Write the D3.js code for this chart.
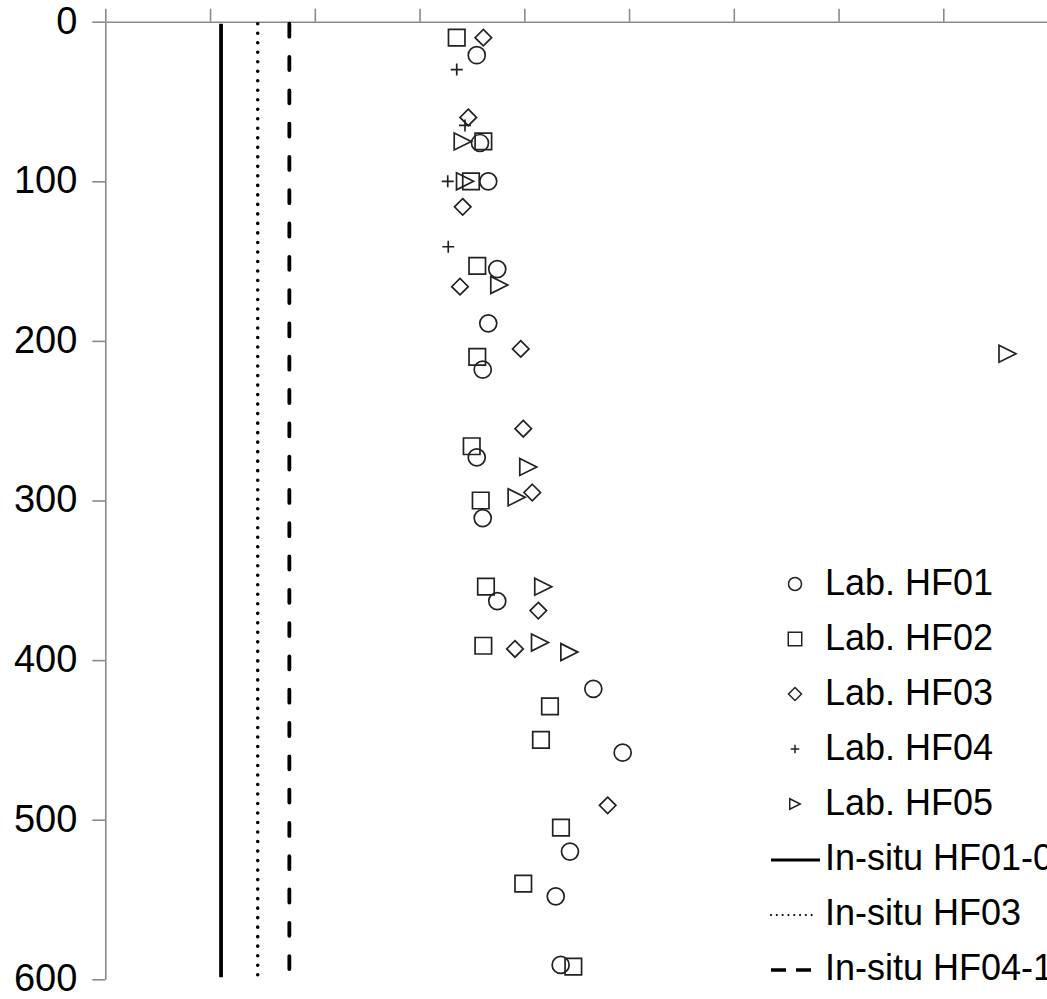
<!DOCTYPE html>
<html>
<head>
<meta charset="utf-8">
<script src="https://cdn.jsdelivr.net/npm/d3@7"></script>
<style>
html,body{margin:0;padding:0;background:#fff;overflow:hidden;}
svg{display:block;font-family:"Liberation Sans",Arial,sans-serif;}
</style>
</head>
<body>
<svg id="chart" width="1047" height="999"></svg>
<script>
// ---- data (depth vs. value, x in axis-tick units) ----
const depthTicks = [0, 100, 200, 300, 400, 500, 600];
const xTicks = [0, 1, 2, 3, 4, 5, 6, 7, 8, 9];

const hf01 = [[3.546,21],[3.577,76],[3.656,100],[3.742,155],[3.656,189],[3.603,218],[3.546,273],[3.603,311],[3.742,363],[4.659,418],[4.939,458],[4.436,520],[4.300,548],[4.347,591]];
const hf02 = [[3.355,10],[3.609,75],[3.491,100],[3.551,153],[3.551,210],[3.498,266],[3.584,300],[3.634,354],[3.609,391],[4.245,429],[4.159,450],[4.350,505],[3.990,540],[4.468,592]];
const hf03 = [[3.609,10],[3.465,60],[3.412,116],[3.386,166],[3.966,205],[3.990,255],[4.076,295],[4.134,369],[3.911,393],[4.796,491]];
const hf04 = [[3.355,30],[3.434,65],[3.269,100],[3.274,141]];
const hf05 = [[3.412,75],[3.434,100],[3.761,165],[8.613,208],[4.038,279],[3.927,298],[4.181,354],[4.150,389],[4.430,395]];

const insituNames = ["In-situ HF01-0", "In-situ HF03", "In-situ HF04-1"];
const insituValues = [1.105, 1.455, 1.757];
const labNames = ["Lab. HF01", "Lab. HF02", "Lab. HF03", "Lab. HF04", "Lab. HF05"];

// ---- setup ----
const svg = d3.select("#chart");
const x = d3.scaleLinear().domain([0, 10]).range([105.3, 105.3 + 1047.5]);
const y = d3.scaleLinear().domain([0, 600]).range([21.7, 979.3]);
const axisColor = "#8a8a8a";
const ink = "#222";

// axes
const gx = svg.append("g").attr("transform", `translate(0,${y(0)})`)
  .call(d3.axisTop(x).tickValues(xTicks).tickSize(13).tickSizeOuter(0).tickFormat(""));
const gy = svg.append("g").attr("transform", `translate(${x(0)},0)`)
  .call(d3.axisLeft(y).tickValues(depthTicks).tickSize(13).tickSizeOuter(0).tickPadding(15));
[gx, gy].forEach(g => {
  g.selectAll("path.domain").attr("stroke", axisColor).attr("stroke-width", 1.6);
  g.selectAll(".tick line").attr("stroke", axisColor).attr("stroke-width", 1.6);
});
gy.selectAll(".tick text")
  .attr("font-size", 38).attr("fill", "#000")
  .attr("font-family", "'Liberation Sans',Arial,sans-serif")
  .attr("dy", "0.3em");

// in-situ lines
const lineStyles = [
  {w: 3.8, dash: null, cap: "butt"},
  {w: 3.6, dash: "0.01,9.5", cap: "round"},
  {w: 3.8, dash: "13,20.3", cap: "round"}
];
svg.append("g").selectAll("line").data(insituValues).join("line")
  .attr("x1", d => x(d)).attr("x2", d => x(d))
  .attr("y1", y(0) + 2).attr("y2", y(600) - 2)
  .attr("stroke", "#000")
  .attr("stroke-width", (d, i) => lineStyles[i].w)
  .attr("stroke-dasharray", (d, i) => lineStyles[i].dash)
  .attr("stroke-linecap", (d, i) => lineStyles[i].cap);

// marker generators (size s = full width)
function markerPath(type, s) {
  const h = s / 2;
  switch (type) {
    case "circle": { const p = d3.path(); p.arc(0, 0, h, 0, 2 * Math.PI); p.closePath(); return p.toString(); }
    case "square": return `M${-h},${-h}H${h}V${h}H${-h}Z`;
    case "diamond": return `M0,${-h}L${h},0L0,${h}L${-h},0Z`;
    case "plus": return `M${-h},0H${h}M0,${-h}V${h}`;
    case "triangle": return `M${-h},${-h}L${h},0L${-h},${h}Z`;
  }
}
const seriesList = [
  {data: hf01, type: "circle", size: 17, lsize: 13},
  {data: hf02, type: "square", size: 16.5, lsize: 13.5},
  {data: hf03, type: "diamond", size: 16.5, lsize: 13},
  {data: hf04, type: "plus", size: 12, lsize: 8.5},
  {data: hf05, type: "triangle", size: 17, lsize: 10.5}
];
const plotG = svg.append("g");
seriesList.forEach(s => {
  plotG.append("g").selectAll("path").data(s.data).join("path")
    .attr("transform", d => `translate(${x(d[0])},${y(d[1])})`)
    .attr("d", markerPath(s.type, s.size))
    .attr("fill", "none").attr("stroke", ink).attr("stroke-width", 1.7);
});

// legend
const legY0 = 595, legDy = 55, symX = 795, textX = 825;
const leg = svg.append("g");
seriesList.forEach((s, i) => {
  const by = legY0 + i * legDy;
  leg.append("path").attr("transform", `translate(${symX},${by - 11})`)
    .attr("d", markerPath(s.type, s.lsize))
    .attr("fill", "none").attr("stroke", ink).attr("stroke-width", 1.5);
  leg.append("text").attr("x", textX).attr("y", by).attr("font-size", 36).attr("fill", "#000").text(labNames[i]);
});
const legLine = [
  {x2: 820, w: 3.2, dash: null, cap: "butt"},
  {x2: 813, w: 2.2, dash: "0.01,5.8", cap: "round"},
  {x2: 812, w: 3.4, dash: "15,10", cap: "butt"}
];
insituNames.forEach((n, j) => {
  const by = legY0 + (labNames.length + j) * legDy;
  const st = legLine[j];
  leg.append("line").attr("x1", 771).attr("x2", st.x2)
    .attr("y1", by - 10).attr("y2", by - 10)
    .attr("stroke", "#000")
    .attr("stroke-width", st.w)
    .attr("stroke-dasharray", st.dash)
    .attr("stroke-linecap", st.cap);
  leg.append("text").attr("x", textX).attr("y", by).attr("font-size", 36).attr("fill", "#000").text(n);
});
</script>
</body>
</html>
